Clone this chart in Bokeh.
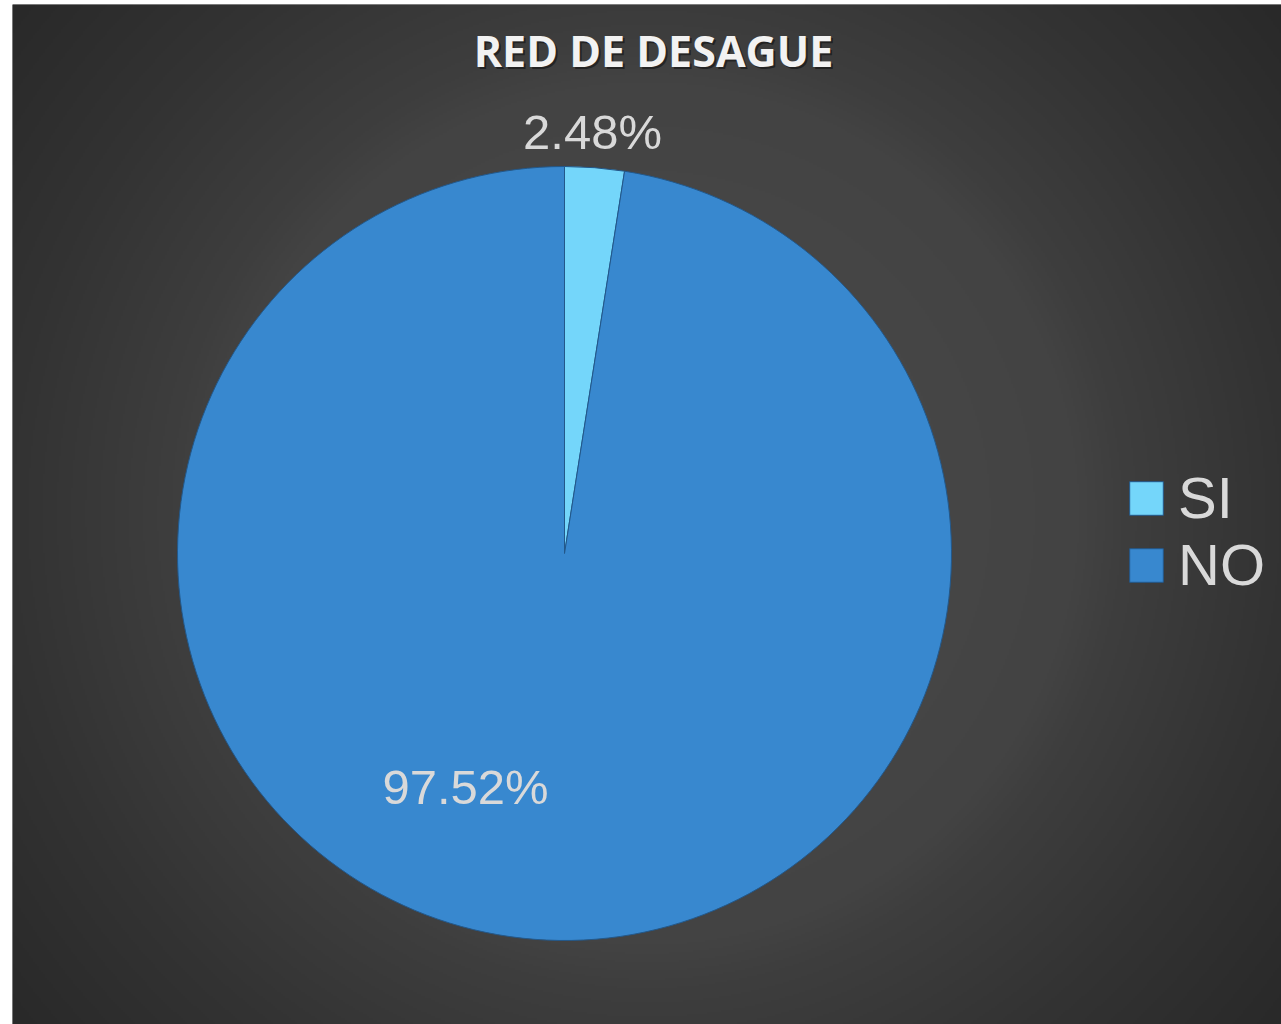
import numpy as np
from bokeh.plotting import figure
from bokeh.models import Range1d, Legend, LegendItem, ColumnDataSource
from bokeh.core.properties import value
from bokeh.embed import file_html
from bokeh.resources import INLINE

# ---- data ----
categories = ["SI", "NO"]
percentages = [2.48, 97.52]
pct_labels = ["2.48%", "97.52%"]
slice_colors = ["#74D6FA", "#3888CF"]
title_text = "RED DE DESAGUE"

# ---- layout ----
W, H = 1281, 1024
L, T = 12, 4
p = figure(width=W, height=H, output_backend="svg", toolbar_location=None,
           x_range=Range1d(L, W), y_range=Range1d(0, H - T),
           min_border_left=L, min_border_top=T, min_border_right=0, min_border_bottom=0,
           x_axis_location=None, y_axis_location=None)
p.grid.visible = False
p.outline_line_color = None
p.background_fill_color = "#2a2a2a"
p.border_fill_color = "#ffffff"

# radial background gradient (decoration)
s = 2
FW, FH = W - L, H - T
ny, nx = FH // s + 1, FW // s + 1
yy, xx = np.mgrid[0:ny, 0:nx]
pxx = L + xx * s
pyy = yy * s
cx, cy = 646, 511
d = np.hypot(pxx - cx, pyy - cy)
v = np.interp(d, [0, 300, 433, 476, 634, 815], [74, 70, 67, 62, 51, 41]).astype(np.uint8)
img = np.empty((ny, nx), dtype=np.uint32)
view = img.view(dtype=np.uint8).reshape((ny, nx, 4))
view[:, :, 0] = v
view[:, :, 1] = v
view[:, :, 2] = v
view[:, :, 3] = 255
p.image_rgba(image=[img], x=L, y=0, dw=FW, dh=FH)

# pie
frac = np.array(percentages) / np.sum(percentages)
ends = np.cumsum(frac) * 2 * np.pi
starts = ends - frac * 2 * np.pi
src = ColumnDataSource(dict(
    cat=categories,
    start=(np.pi / 2 - starts).tolist(),
    end=(np.pi / 2 - ends).tolist(),
    color=slice_colors,
))
pie_cx, pie_cy, pie_r = 564, 471, 387
wr = p.wedge(x=pie_cx, y=pie_cy, radius=pie_r, start_angle="start", end_angle="end",
             direction="clock", fill_color="color", line_color="#23588a",
             line_width=1, source=src)

# data labels
label_x = [592, 465]
label_y = [893, 238]
p.text(x=label_x, y=label_y, text=pct_labels, text_align="center",
       text_baseline="middle", text_font=value("Liberation Sans"),
       text_font_size="49px", text_color="#d9d9d9")

# title with shadow
p.text(x=[655], y=[972], text=[title_text], text_align="center", text_baseline="middle",
       text_font=value("Open Sans"), text_font_style="bold", text_font_size="43px",
       text_color="#000000", text_alpha=0.45)
p.text(x=[653], y=[974], text=[title_text], text_align="center", text_baseline="middle",
       text_font=value("Open Sans"), text_font_style="bold", text_font_size="43px",
       text_color="#f2f2f2")

# legend
items = [LegendItem(label=c, renderers=[wr], index=i) for i, c in enumerate(categories)]
legend = Legend(items=items, location=(1113, 426), orientation="vertical",
                background_fill_alpha=0, border_line_alpha=0,
                label_text_color="#d9d9d9", label_text_font="Liberation Sans",
                label_text_font_size="58px", glyph_width=42, glyph_height=42,
                label_standoff=11, spacing=0, padding=0, margin=0)
p.add_layout(legend)

open("out.html", "w").write(file_html(p, INLINE))
